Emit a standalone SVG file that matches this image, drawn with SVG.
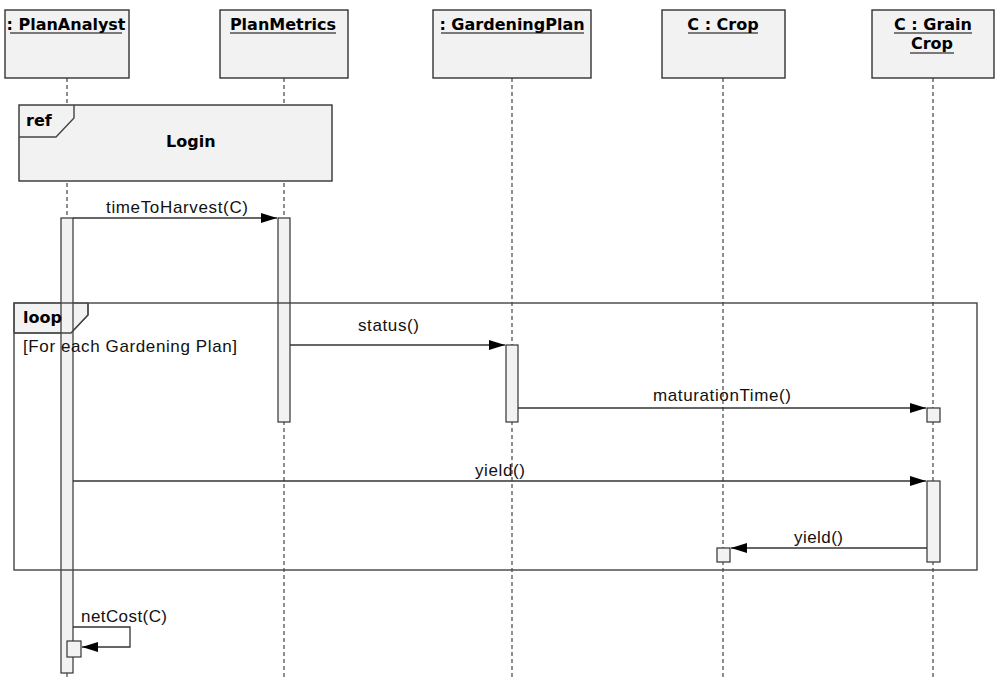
<svg xmlns="http://www.w3.org/2000/svg" width="995" height="679" viewBox="0 0 995 679">
<defs>
<style>
.box{fill:#f2f2f2;stroke:#333;stroke-width:1.4}
.act{fill:#f2f2f2;stroke:#333;stroke-width:1.2}
.life{stroke:#333;stroke-width:1.1;stroke-dasharray:4 3;fill:none}
.msg{stroke:#333;stroke-width:1.3;fill:none;marker-end:url(#arrow)}
.frame{fill:none;stroke:#444;stroke-width:1.4}
.tab{fill:#f2f2f2;stroke:#444;stroke-width:1.2}
.hdr{font-family:"DejaVu Sans",sans-serif;font-weight:bold;font-size:16px;fill:#000;text-anchor:middle}
.bold{font-family:"DejaVu Sans",sans-serif;font-weight:bold;font-size:16px;fill:#000}
.lbl{font-family:"Liberation Sans",Arial,sans-serif;font-size:17px;fill:#111}
.ul{stroke:#000;stroke-width:1.2}
</style>
<marker id="arrow" markerUnits="userSpaceOnUse" markerWidth="16" markerHeight="10" refX="16" refY="5" orient="auto">
<path d="M0,0 L16,5 L0,10 Z" fill="#000"/>
</marker>
</defs>
<rect width="995" height="679" fill="#fff"/>

<g id="lifelines">
<line class="life" x1="67" y1="78" x2="67" y2="679"/>
<line class="life" x1="284" y1="78" x2="284" y2="679"/>
<line class="life" x1="512" y1="78" x2="512" y2="679"/>
<line class="life" x1="723" y1="78" x2="723" y2="679"/>
<line class="life" x1="933" y1="78" x2="933" y2="679"/>
</g>

<g id="node-planAnalyst">
<rect class="box" x="5" y="10" width="124" height="68"/>
<text class="hdr" x="66" y="30">: PlanAnalyst</text>
<line class="ul" x1="10" y1="33" x2="122" y2="33"/>
</g>
<g id="node-planMetrics">
<rect class="box" x="220" y="10" width="128" height="68"/>
<text class="hdr" x="283" y="30">PlanMetrics</text>
<line class="ul" x1="230" y1="33" x2="336" y2="33"/>
</g>
<g id="node-gardeningPlan">
<rect class="box" x="433" y="10" width="158" height="68"/>
<text class="hdr" x="512" y="30">: GardeningPlan</text>
<line class="ul" x1="441" y1="33" x2="584" y2="33"/>
</g>
<g id="node-crop">
<rect class="box" x="662" y="10" width="123" height="68"/>
<text class="hdr" x="723" y="30">C : Crop</text>
<line class="ul" x1="688" y1="33" x2="758" y2="33"/>
</g>
<g id="node-grainCrop">
<rect class="box" x="872" y="10" width="122" height="68"/>
<text class="hdr" x="933" y="30">C : Grain</text>
<line class="ul" x1="894" y1="33" x2="972" y2="33"/>
<text class="hdr" x="932" y="49">Crop</text>
<line class="ul" x1="910" y1="53" x2="954" y2="53"/>
</g>

<g id="ref-login">
<rect class="box" x="19" y="105" width="313" height="76"/>
<polyline class="frame" points="19,137 56,137 74,118 74,105"/>
<text class="bold" x="26" y="126">ref</text>
<text class="bold" x="166" y="147">Login</text>
</g>

<g id="loop-tab">
<polygon class="tab" points="14,303 88,303 88,315 71,333 14,333"/>
</g>

<g id="activations">
<rect class="act" x="61" y="218" width="12" height="455"/>
<rect class="act" x="278" y="218" width="12" height="204"/>
<rect class="act" x="506" y="345" width="12" height="77"/>
<rect class="act" x="927" y="408" width="13" height="14"/>
<rect class="act" x="927" y="481" width="13" height="81"/>
<rect class="act" x="717" y="548" width="13" height="14"/>
<rect class="act" x="67" y="641" width="14" height="16"/>
</g>

<g id="loop-frame">
<rect class="frame" x="14" y="303" width="963" height="267"/>
<polyline class="frame" points="14,333 71,333 88,315 88,303"/>
<text class="bold" x="23" y="323">loop</text>
<text class="lbl" x="23" y="352" textLength="214" lengthAdjust="spacing">[For each Gardening Plan]</text>
</g>

<g id="connectors">
<line class="msg" x1="73" y1="218" x2="277" y2="218"/>
<text class="lbl" x="106" y="213" textLength="142" lengthAdjust="spacing">timeToHarvest(C)</text>
<line class="msg" x1="290" y1="345" x2="505" y2="345"/>
<text class="lbl" x="358" y="331" textLength="61" lengthAdjust="spacing">status()</text>
<line class="msg" x1="518" y1="408" x2="926" y2="408"/>
<text class="lbl" x="653" y="401" textLength="138" lengthAdjust="spacing">maturationTime()</text>
<line class="msg" x1="73" y1="481" x2="926" y2="481"/>
<text class="lbl" x="475" y="476" textLength="50" lengthAdjust="spacing">yield()</text>
<line class="msg" x1="927" y1="548" x2="731" y2="548"/>
<text class="lbl" x="794" y="543" textLength="49" lengthAdjust="spacing">yield()</text>
<polyline class="msg" points="73,627 130,627 130,647 82,647"/>
<text class="lbl" x="81" y="622" textLength="86" lengthAdjust="spacing">netCost(C)</text>
</g>
</svg>
